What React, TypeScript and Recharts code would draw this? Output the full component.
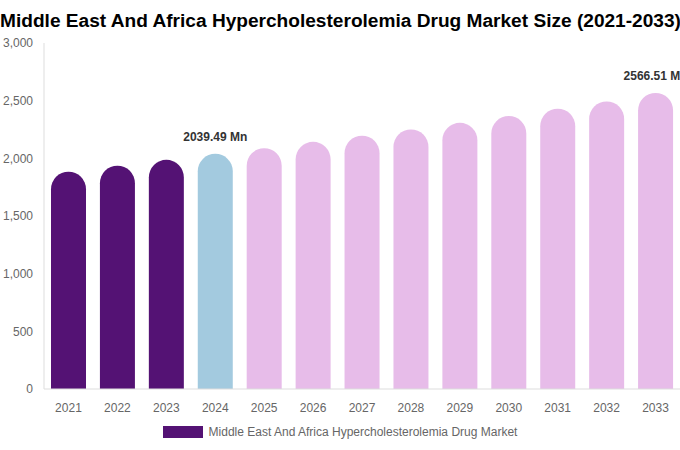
import { Bar, BarChart, Cell, LabelList, XAxis, YAxis } from "recharts";

const YEARS = ["2021", "2022", "2023", "2024", "2025", "2026", "2027", "2028", "2029", "2030", "2031", "2032", "2033"];
const MARKET_SIZE = [1884, 1936, 1987, 2039.49, 2088, 2143, 2196, 2251, 2308, 2367, 2430, 2493, 2566.51];
const Y_TICKS = [0, 500, 1000, 1500, 2000, 2500, 3000];
const LABELLED_YEARS = ["2024", "2033"];

const HISTORIC = "#541274";
const BASE_YEAR = "#a3cadf";
const FORECAST = "#e7bce9";
const FONT = '"Liberation Sans", Arial, sans-serif';

const data = YEARS.map((year, i) => ({ year, value: MARKET_SIZE[i] }));

function barColor(year: string) {
  if (year < "2024") return HISTORIC;
  if (year === "2024") return BASE_YEAR;
  return FORECAST;
}

// only the base year and the last forecast year carry a value label
function ValueLabel(props: any) {
  const { x, y, width, index } = props;
  const point = data[index];
  if (!point || !LABELLED_YEARS.includes(point.year)) return null;
  return (
    <text
      x={x + width / 2}
      y={y - 13}
      textAnchor="middle"
      fill="#333"
      fontSize={12}
      fontWeight="bold"
      fontFamily={FONT}
    >
      {`${point.value.toFixed(2)} Mn`}
    </text>
  );
}

export default function App() {
  return (
    <div style={{ position: "absolute", left: 0, top: 0, width: 680, height: 450, fontFamily: FONT }}>
      <div
        style={{
          position: "absolute",
          top: 8,
          left: 0,
          width: 681,
          textAlign: "center",
          fontSize: 19.1,
          fontWeight: "bold",
          color: "#000",
          whiteSpace: "nowrap",
          lineHeight: "26px",
        }}
      >
        Middle East And Africa Hypercholesterolemia Drug Market Size (2021-2033)
      </div>
      <BarChart
        width={680}
        height={450}
        data={data}
        margin={{ top: 43, right: 0, bottom: 31, left: 0 }}
        style={{ position: "absolute", left: 0, top: 0 }}
      >
        <XAxis
          dataKey="year"
          height={30}
          tickLine={false}
          tickMargin={8}
          stroke="#ddd"
          tick={{ fill: "#666", fontSize: 12, fontFamily: FONT }}
        />
        <YAxis
          width={44}
          domain={[0, 3000]}
          ticks={Y_TICKS}
          tickLine={false}
          tickMargin={5}
          stroke="#ddd"
          tick={{ fill: "#666", fontSize: 12, fontFamily: FONT }}
          tickFormatter={(v: number) => v.toLocaleString("en-US")}
        />
        <Bar dataKey="value" barSize={35} radius={[17.5, 17.5, 0, 0]} fill={HISTORIC} isAnimationActive={false}>
          {data.map((d) => (
            <Cell key={d.year} fill={barColor(d.year)} />
          ))}
          <LabelList dataKey="value" content={ValueLabel} />
        </Bar>
      </BarChart>
      <div
        style={{
          position: "absolute",
          top: 425,
          left: 0,
          width: 680,
          display: "flex",
          justifyContent: "center",
          alignItems: "center",
          fontSize: 12,
          color: "#666",
        }}
      >
        <span style={{ display: "inline-block", width: 40, height: 12, background: HISTORIC, marginRight: 6 }} />
        <span>Middle East And Africa Hypercholesterolemia Drug Market</span>
      </div>
    </div>
  );
}
